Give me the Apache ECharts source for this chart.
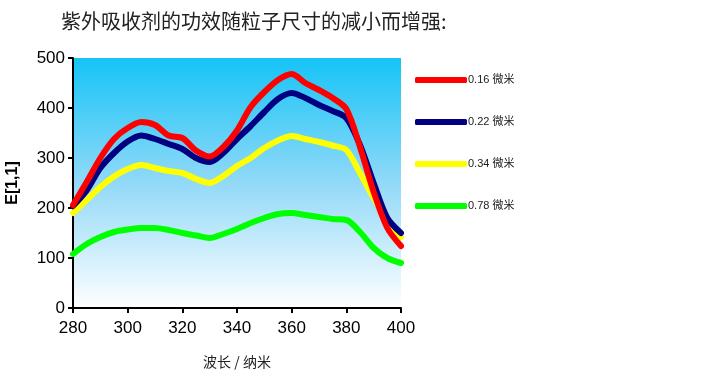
<!DOCTYPE html>
<html>
<head>
<meta charset="utf-8">
<script src="https://cdn.jsdelivr.net/npm/echarts@6/dist/echarts.min.js"></script>
<style>html,body{margin:0;padding:0;background:#fff}#c{width:720px;height:384px}</style>
</head>
<body>
<div id="c"></div>
<script>
var wavelengths = [280,285,290,295,300,305,310,315,320,325,330,335,340,345,350,355,360,365,370,375,380,385,390,395,400];
var s016 = [206,252,300,338,360,372,366,345,340,315,303,322,355,402,432,456,468,450,436,420,398,322,232,160,124];
var s022 = [204,235,280,310,333,345,338,328,318,300,292,310,338,364,392,418,430,420,406,394,380,326,250,180,150];
var s034 = [190,216,242,263,278,286,280,274,270,258,250,264,284,300,320,335,344,338,332,325,316,270,220,175,142];
var s078 = [108,128,142,152,157,160,160,156,150,145,140,148,158,170,180,188,190,186,182,178,176,152,120,100,90];
var seriesNames = ['0.16 微米','0.22 微米','0.34 微米','0.78 微米'];
var seriesColors = ['#ff0000','#000080','#ffff00','#00ff00'];
var xTicks = [280,300,320,340,360,380,400];
var yTicks = [0,100,200,300,400,500];

function pairs(v){ return wavelengths.map(function(x,i){ return [x, v[i]]; }); }
var all = [s016, s022, s034, s078];

var chart = echarts.init(document.getElementById('c'));
chart.setOption({
  animation: false,
  title: {
    text: '紫外吸收剂的功效随粒子尺寸的减小而增强:',
    left: 56, top: 6,
    textStyle: {fontFamily: 'Noto Sans CJK SC', fontSize: 20, fontWeight: 'normal', color: '#222'}
  },
  legend: {
    orient: 'vertical', left: 410, top: 68,
    icon: 'roundRect',
    itemWidth: 52, itemHeight: 6, itemGap: 28,
    textStyle: {fontFamily: 'Liberation Sans, Noto Sans CJK SC', fontSize: 11, color: '#222', lineHeight: 14, padding: [0,0,0,-4]},
    data: seriesNames
  },
  grid: {
    left: 73, right: 319, top: 58, bottom: 76, show: true, borderWidth: 0,
    backgroundColor: new echarts.graphic.LinearGradient(0,0,0,1,[
      {offset:0,color:'#15c4f6'},{offset:0.5,color:'#92d9f8'},{offset:1,color:'#ffffff'}])
  },
  xAxis: {
    type: 'value', min: xTicks[0], max: xTicks[xTicks.length-1], interval: 20,
    name: '波长 / 纳米', nameLocation: 'middle', nameGap: 47,
    nameTextStyle: {fontFamily: 'Noto Sans CJK SC', fontSize: 14, color: '#222'},
    axisLine: {lineStyle: {color: '#000', width: 2}},
    axisTick: {length: 5, lineStyle: {color: '#000', width: 2}},
    axisLabel: {fontFamily: 'Liberation Sans', fontSize: 17, color: '#000', margin: 12},
    splitLine: {show: false}
  },
  yAxis: {
    type: 'value', min: yTicks[0], max: yTicks[yTicks.length-1], interval: 100,
    name: 'E[1,1]', nameLocation: 'middle', nameGap: 52, nameRotate: 90,
    nameTextStyle: {fontFamily: 'Liberation Sans', fontSize: 16, fontWeight: 'bold', color: '#000'},
    axisLine: {show: true, lineStyle: {color: '#000', width: 2}},
    axisTick: {show: true, length: 5, lineStyle: {color: '#000', width: 2}},
    axisLabel: {fontFamily: 'Liberation Sans', fontSize: 17, color: '#000', margin: 8},
    splitLine: {show: false}
  },
  series: all.map(function(v,i){
    return {
      name: seriesNames[i], type: 'line', data: pairs(v), smooth: 0.3,
      symbol: 'none', color: seriesColors[i],
      lineStyle: {color: seriesColors[i], width: 6, cap: 'round', join: 'round'},
      z: 10 - i
    };
  })
});
</script>
</body>
</html>
